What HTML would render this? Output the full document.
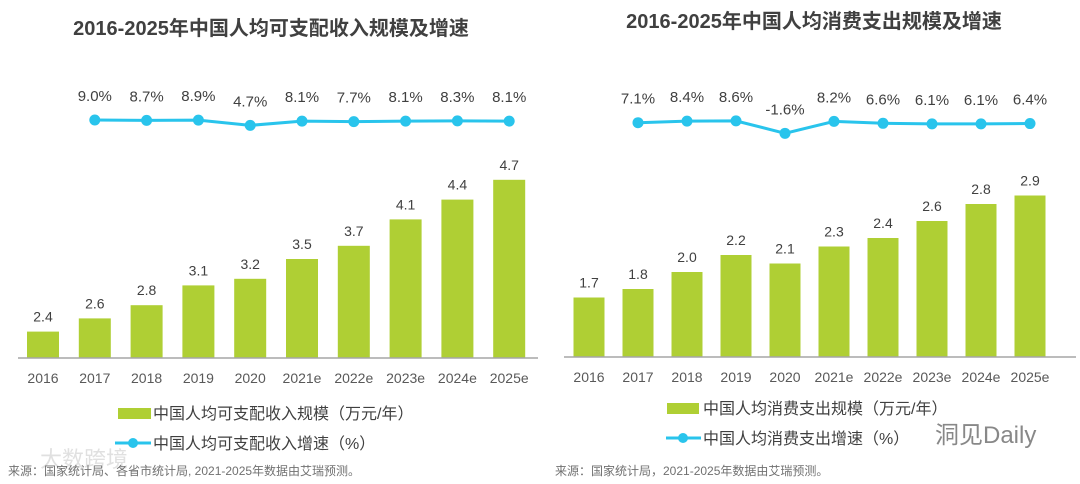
<!DOCTYPE html>
<html><head><meta charset="utf-8"><style>
body{margin:0;background:#fff;}
svg{display:block;font-family:"Liberation Sans","Noto Sans CJK SC",sans-serif;}
</style></head><body>
<svg id="s" width="1080" height="484" viewBox="0 0 1080 484" xmlns="http://www.w3.org/2000/svg">
<text x="271" y="35" text-anchor="middle" font-size="20" font-weight="bold" fill="#404040">2016-2025年中国人均可支配收入规模及增速</text>
<text x="814" y="28" text-anchor="middle" font-size="20" font-weight="bold" fill="#404040">2016-2025年中国人均消费支出规模及增速</text>
<g>
<rect x="118" y="408" width="33" height="11" fill="#afcf34"/>
<text x="153" y="419" font-size="16" fill="#404040">中国人均可支配收入规模（万元/年）</text>
<line x1="115" y1="443" x2="151" y2="443" stroke="#29c4ec" stroke-width="3"/>
<circle cx="133" cy="443" r="5" fill="#29c4ec"/>
<text x="153" y="449" font-size="16" fill="#404040">中国人均可支配收入增速（%）</text>
</g>
<g>
<rect x="667" y="403" width="32" height="11" fill="#afcf34"/>
<text x="703" y="414" font-size="16" fill="#404040">中国人均消费支出规模（万元/年）</text>
<line x1="666" y1="438" x2="701" y2="438" stroke="#29c4ec" stroke-width="3"/>
<circle cx="683" cy="438" r="5" fill="#29c4ec"/>
<text x="703" y="444" font-size="16" fill="#404040">中国人均消费支出增速（%）</text>
</g>
<text x="935" y="443" font-size="24" fill="#888">洞见Daily</text>
<text x="40" y="467" font-size="22" fill="#ccc" opacity="0.6">大数跨境</text>
<text x="8" y="475" font-size="12" fill="#707070">来源：国家统计局、各省市统计局, 2021-2025年数据由艾瑞预测。</text>
<text x="555" y="475" font-size="12" fill="#707070">来源：国家统计局，2021-2025年数据由艾瑞预测。</text>
</svg>
<script>
const years = ["2016","2017","2018","2019","2020","2021e","2022e","2023e","2024e","2025e"];
const incomeValues = [2.4,2.6,2.8,3.1,3.2,3.5,3.7,4.1,4.4,4.7];
const incomeGrowth = [9.0,8.7,8.9,4.7,8.1,7.7,8.1,8.3,8.1];
const spendValues = [1.7,1.8,2.0,2.2,2.1,2.3,2.4,2.6,2.8,2.9];
const spendGrowth = [7.1,8.4,8.6,-1.6,8.2,6.6,6.1,6.1,6.4];
const NS="http://www.w3.org/2000/svg";
const svg=document.getElementById('s');
function mk(tag,attrs,txt){const e=document.createElementNS(NS,tag);for(const k in attrs)e.setAttribute(k,attrs[k]);if(txt!==undefined)e.textContent=txt;svg.appendChild(e);return e;}
function chart(p,vals,growth){
  const xs=i=>p.x0+i*p.step;
  const yb=v=>p.base-(v-p.min)*p.slope;
  const yl=v=>p.lref-(v-p.gref)*p.gslope;
  vals.forEach((v,i)=>{
    const r=mk('rect',{x:xs(i)-p.bw/2,y:yb(v),width:p.bw,height:p.base-yb(v),fill:'#afcf34'});
    
    
    const t=mk('text',{x:xs(i),y:yb(v)-10,'text-anchor':'middle','font-size':14,fill:'#404040'},v.toFixed(1));
    
    
    const k=mk('text',{x:xs(i),y:p.base+25,'text-anchor':'middle','font-size':14,fill:'#595959'},years[i]);
    
    
  });
  const ax=mk('line',{x1:p.ax0,x2:p.ax1,y1:p.base,y2:p.base,stroke:'#a6a6a6','stroke-width':1.5});
  
  
  const off=1;
  const pts=growth.map((g,i)=>xs(i+off)+','+yl(g)).join(' ');
  const pl=mk('polyline',{points:pts,fill:'none',stroke:'#29c4ec','stroke-width':3});
  
  
  growth.forEach((g,i)=>{
    const c=mk('circle',{cx:xs(i+off),cy:yl(g),r:5.5,fill:'#29c4ec'});
    
    
    const t=mk('text',{x:xs(i+off),y:yl(g)-19,'text-anchor':'middle','font-size':15,fill:'#404040'},g.toFixed(1)+'%');
    
    
  });
}
chart({id:'income',x0:43,step:51.8,bw:32,base:358,min:2.0,slope:66,ax0:18,ax1:538,lref:120,gref:9.0,gslope:1.25},incomeValues,incomeGrowth);
chart({id:'spend',x0:589,step:49,bw:31,base:357,min:1.0,slope:85,ax0:564,ax1:1076,lref:122.7,gref:7.1,gslope:1.22},spendValues,spendGrowth);
</script>
</body></html>
